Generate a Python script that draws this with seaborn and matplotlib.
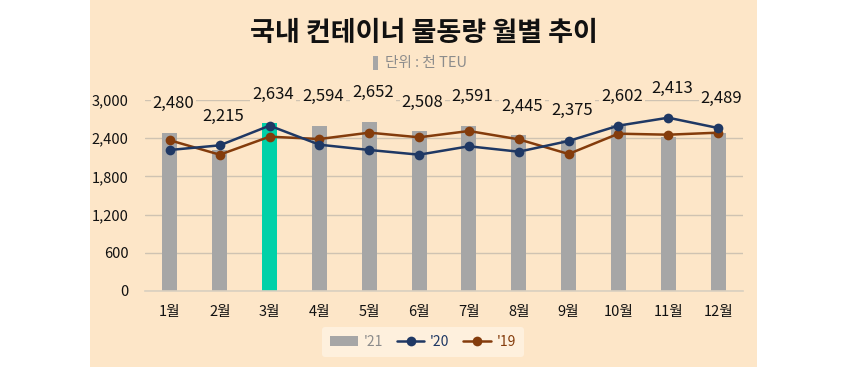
import numpy as np
import matplotlib
matplotlib.use("Agg")
import matplotlib.pyplot as plt
from matplotlib.patches import Rectangle, Patch
from matplotlib.lines import Line2D
import seaborn as sns

months = ["1월", "2월", "3월", "4월", "5월", "6월", "7월", "8월", "9월", "10월", "11월", "12월"]
v21 = [2480, 2215, 2634, 2594, 2652, 2508, 2591, 2445, 2375, 2602, 2413, 2489]
v20 = [2215, 2288, 2597, 2298, 2215, 2141, 2273, 2188, 2356, 2597, 2722, 2560]
v19 = [2367, 2141, 2424, 2387, 2487, 2414, 2513, 2382, 2152, 2471, 2455, 2487]
yticks = [0, 600, 1200, 1800, 2400, 3000]
series_names = ["'21", "'20", "'19"]
highlight_month = "3월"

BG = "#FDE6C8"
GRAY = "#A6A6A6"
TEAL = "#00D1A8"
NAVY = "#1F3864"
BROWN = "#843C0C"
GRID = "#CFC3B2"

sns.set_theme(style="white")
plt.rcParams["font.family"] = ["Noto Sans CJK KR", "DejaVu Sans"]

fig = plt.figure(figsize=(8.44, 3.67), dpi=100, facecolor="white")
fig.patches.append(Rectangle((90 / 844, 0), (757 - 90) / 844, 1, transform=fig.transFigure,
                             facecolor=BG, edgecolor="none", zorder=-5))

ax = fig.add_axes([145 / 844, 1 - 291 / 367, (743 - 145) / 844, (291 - 100) / 367])
ax.patch.set_alpha(0)

bar_colors = [TEAL if m == highlight_month else GRAY for m in months]
sns.barplot(x=months, y=v21, hue=months, palette=bar_colors, legend=False,
            width=0.3, ax=ax, saturation=1, zorder=2, edgecolor="none", linewidth=0)

xs = np.arange(len(months))
sns.lineplot(x=xs, y=v20, color=NAVY, marker="o", markersize=7, linewidth=1.8,
             markeredgewidth=0, ax=ax, zorder=4)
sns.lineplot(x=xs, y=v19, color=BROWN, marker="o", markersize=7, linewidth=1.8,
             markeredgewidth=0, ax=ax, zorder=3)

ax.set_xlim(-0.5, len(months) - 0.5)
ax.set_ylim(0, 3000)
ax.set_yticks(yticks)
ax.set_yticklabels([f"{t:,}" for t in yticks])
ax.yaxis.grid(True, color=GRID, linewidth=1.0, zorder=0)
ax.set_axisbelow(True)
for s in ["top", "right", "left"]:
    ax.spines[s].set_visible(False)
ax.spines["bottom"].set_color("#D9D0C0")
ax.spines["bottom"].set_linewidth(1.2)
ax.tick_params(axis="both", length=0, labelsize=10.5, colors="#111111")
ax.tick_params(axis="y", pad=12)
ax.tick_params(axis="x", pad=10)
for lab in ax.get_xticklabels() + ax.get_yticklabels():
    lab.set_fontweight("medium")
ax.set_xlabel("")
ax.set_ylabel("")

# value labels for '21
for i, v in enumerate(v21):
    top = max(v21[i], v20[i], v19[i])
    ax.text(i + 0.07, top + 460, f"{v:,}", ha="center", va="center", fontsize=12,
            fontweight="medium", color="#111111", clip_on=False, zorder=6,
            bbox=dict(facecolor=BG, edgecolor="none", pad=1.5))

# title & subtitle
fig.text(0.5025, 1 - 33 / 367, "국내 컨테이너 물동량 월별 추이", ha="center", va="center",
         fontsize=19.5, fontweight="black", color="#111111")
fig.patches.append(Rectangle((373 / 844, 1 - 70 / 367), 5 / 844, 14 / 367,
                             transform=fig.transFigure, facecolor="#A6A6A6", edgecolor="none"))
fig.text(385 / 844, 1 - 63 / 367, "단위 : 천 TEU", ha="left", va="center",
         fontsize=10.5, color="#8C8C8C")

# legend
handles = [
    Patch(facecolor=GRAY, edgecolor="none"),
    Line2D([0], [0], color=NAVY, marker="o", markersize=7, linewidth=1.8, markeredgewidth=0),
    Line2D([0], [0], color=BROWN, marker="o", markersize=7, linewidth=1.8, markeredgewidth=0),
]
leg = fig.legend(handles, series_names, loc="center", bbox_to_anchor=(423 / 844, 1 - 342 / 367),
                 ncol=3, frameon=True, fontsize=10, handlelength=2.0, columnspacing=1.0,
                 handletextpad=0.4, borderpad=0.55, borderaxespad=0)
leg.get_frame().set_facecolor("#FEF0DD")
leg.get_frame().set_edgecolor("none")
leg.get_frame().set_alpha(1)
for txt, c in zip(leg.get_texts(), ["#8C8C8C", NAVY, BROWN]):
    txt.set_color(c)

fig.savefig("out.png", dpi=100, facecolor=fig.get_facecolor())
